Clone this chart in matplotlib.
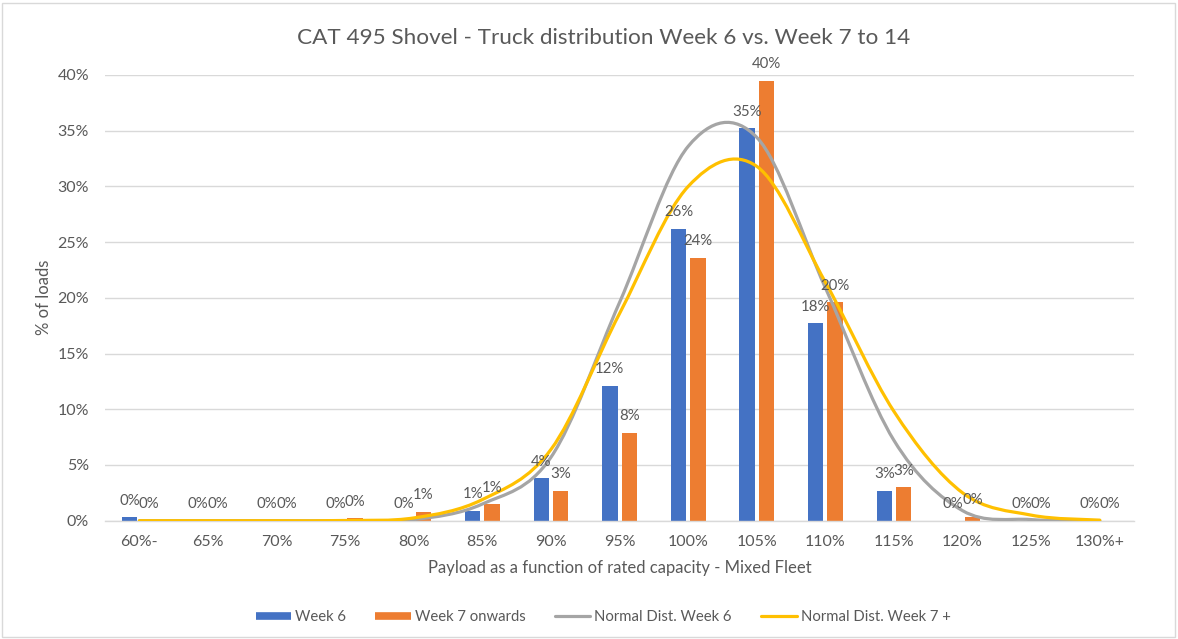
import matplotlib
matplotlib.use("Agg")
import matplotlib.pyplot as plt
from matplotlib.path import Path
from matplotlib.patches import PathPatch, Rectangle
from matplotlib.lines import Line2D
from matplotlib.ticker import PercentFormatter
import numpy as np

plt.rcParams['font.family'] = ['Lato', 'DejaVu Sans']

categories = ["60%-", "65%", "70%", "75%", "80%", "85%", "90%", "95%", "100%",
              "105%", "110%", "115%", "120%", "125%", "130%+"]
week6 = [0.3, 0, 0, 0, 0, 0.87, 3.8, 12.1, 26.2, 35.2, 17.7, 2.7, 0, 0, 0]
week7 = [0, 0, 0, 0.2, 0.8, 1.47, 2.7, 7.9, 23.6, 39.5, 19.6, 3.0, 0.36, 0, 0]
norm6 = [0, 0, 0, 0, 0.1, 1.5, 5.7, 19.6, 33.6, 34.4, 20.9, 7.2, 0.9, 0.1, 0]
norm7 = [0, 0, 0, 0.02, 0.25, 1.9, 6.4, 18.6, 30.0, 31.8, 21.4, 9.8, 2.5, 0.5, 0.05]

title = "CAT 495 Shovel - Truck distribution Week 6 vs. Week 7 to 14"
xlabel = "Payload as a function of rated capacity - Mixed Fleet"
ylabel = "% of loads"
legend_labels = ["Week 6", "Week 7 onwards", "Normal Dist. Week 6", "Normal Dist. Week 7 +"]

C_BLUE = "#4472C4"
C_ORANGE = "#ED7D31"
C_GRAY = "#A5A5A5"
C_YELLOW = "#FFC000"
C_TEXT = "#595959"
C_GRID = "#D9D9D9"

W, H = 1178, 639
fig = plt.figure(figsize=(W / 100, H / 100), dpi=100)
ax = fig.add_axes([105.1 / W, 1 - 520.7 / H, (1134.1 - 105.1) / W, (520.7 - 75) / H])

x = np.arange(len(categories))
bw = 0.226
off = 0.142
b1 = ax.bar(x - off, week6, bw, color=C_BLUE, zorder=2)
b2 = ax.bar(x + off, week7, bw, color=C_ORANGE, zorder=2)


def smooth_path(xs, ys):
    pts = np.column_stack([xs, ys]).astype(float)
    n = len(pts)
    verts = [pts[0]]
    codes = [Path.MOVETO]
    for i in range(n - 1):
        p0 = pts[i - 1] if i > 0 else pts[i]
        p1 = pts[i]
        p2 = pts[i + 1]
        p3 = pts[i + 2] if i + 2 < n else pts[i + 1]
        c1 = p1 + (p2 - p0) / 6.0
        c2 = p2 - (p3 - p1) / 6.0
        verts += [c1, c2, p2]
        codes += [Path.CURVE4] * 3
    return Path(verts, codes)


for vals, col in [(norm6, C_GRAY), (norm7, C_YELLOW)]:
    patch = PathPatch(smooth_path(x, vals), facecolor="none", edgecolor=col,
                      lw=2.3, zorder=3, capstyle="round", joinstyle="round")
    ax.add_patch(patch)

for bars, vals in [(b1, week6), (b2, week7)]:
    for rect, v in zip(bars, vals):
        ax.annotate(f"{v:.0f}%", (rect.get_x() + rect.get_width() / 2, v),
                    xytext=(0, 12), textcoords="offset points",
                    ha="center", va="center", fontsize=10.8, color=C_TEXT, zorder=4)

ax.set_xlim(-0.5, len(categories) - 0.5)
ax.set_ylim(0, 40)
ax.set_yticks(np.arange(0, 41, 5))
ax.yaxis.set_major_formatter(PercentFormatter(xmax=100, decimals=0))
ax.set_xticks(x)
ax.set_xticklabels(categories)
ax.tick_params(axis="both", length=0, labelsize=11.5, labelcolor=C_TEXT)
ax.tick_params(axis="y", pad=11.5)
ax.tick_params(axis="x", pad=10)
ax.grid(axis="y", color=C_GRID, lw=1, zorder=0)
ax.set_axisbelow(True)
for s in ["top", "right", "left"]:
    ax.spines[s].set_visible(False)
ax.spines["bottom"].set_color(C_GRID)
ax.spines["bottom"].set_linewidth(1)

fig.text(604 / W, 1 - 38 / H, title, ha="center", va="center", fontsize=16.2, color=C_TEXT)
fig.text(620 / W, 1 - 568 / H, xlabel, ha="center", va="center", fontsize=12, color=C_TEXT)
fig.text(44 / W, 1 - 297 / H, ylabel, ha="center", va="center", fontsize=12,
         color=C_TEXT, rotation=90)

handles = [
    Line2D([], [], color=C_BLUE, lw=5.5, solid_capstyle="butt"),
    Line2D([], [], color=C_ORANGE, lw=5.5, solid_capstyle="butt"),
    Line2D([], [], color=C_GRAY, lw=2.3, solid_capstyle="round"),
    Line2D([], [], color=C_YELLOW, lw=2.3, solid_capstyle="round"),
]
leg = fig.legend(handles, legend_labels, loc="center", bbox_to_anchor=(603 / W, 1 - 617 / H),
                 ncol=4, frameon=False, fontsize=10.7, handlelength=2.4, handletextpad=0.27,
                 columnspacing=1.95, labelcolor=C_TEXT)

fig.patches.append(Rectangle((2 / W, 2 / H), (W - 5) / W, (H - 5) / H, transform=fig.transFigure,
                             fill=False, edgecolor=C_GRID, lw=1))

fig.savefig("out.png", dpi=100)
